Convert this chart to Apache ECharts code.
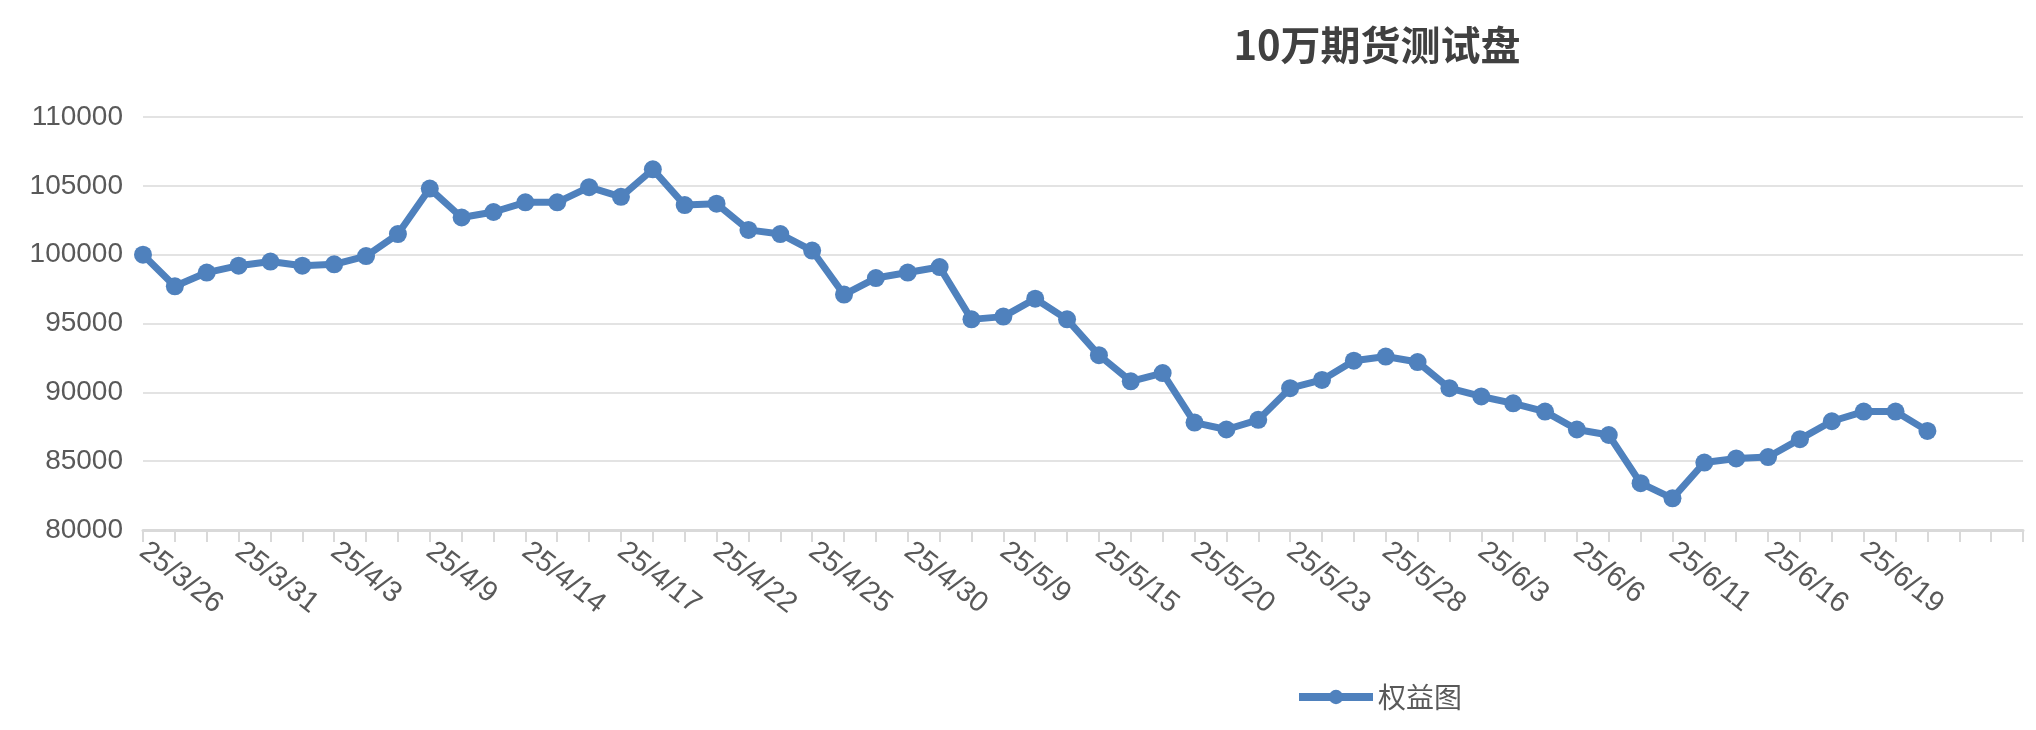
<!DOCTYPE html>
<html><head><meta charset="utf-8">
<script src="https://cdn.jsdelivr.net/npm/echarts@6/dist/echarts.min.js"></script>
<style>html,body{margin:0;padding:0;background:#fff}#c{width:2036px;height:730px}</style>
</head><body><div id="c"></div>
<script>
const categories = ["25/3/26","25/3/27","25/3/28","25/3/31","25/4/1","25/4/2","25/4/3","25/4/7","25/4/8","25/4/9","25/4/10","25/4/11","25/4/14","25/4/15","25/4/16","25/4/17","25/4/18","25/4/21","25/4/22","25/4/23","25/4/24","25/4/25","25/4/28","25/4/29","25/4/30","25/5/7","25/5/8","25/5/9","25/5/12","25/5/13","25/5/15","25/5/16","25/5/19","25/5/20","25/5/21","25/5/22","25/5/23","25/5/26","25/5/27","25/5/28","25/5/29","25/5/30","25/6/3","25/6/4","25/6/5","25/6/6","25/6/9","25/6/10","25/6/11","25/6/12","25/6/13","25/6/16","25/6/17","25/6/18","25/6/19","25/6/20","25/6/23","25/6/24","25/6/25","25/6/26"];
const equity = [100000,97700,98700,99200,99500,99200,99300,99900,101500,104800,102700,103100,103800,103800,104900,104200,106200,103600,103700,101800,101500,100300,97100,98300,98700,99100,95300,95500,96800,95300,92700,90800,91400,87800,87300,88000,90300,90900,92300,92600,92200,90300,89700,89200,88600,87300,86900,83400,82300,84900,85200,85300,86600,87900,88600,88600,87200];
const seriesName = "权益图";
const chart = echarts.init(document.getElementById('c'));
chart.setOption({
  animation:false,
  title:{text:"10万期货测试盘",left:1372,top:20,textAlign:'center',textStyle:{fontSize:40,fontWeight:'bold',color:'#404040',fontFamily:'Noto Sans CJK SC'}},
  legend:{bottom:14,left:1290,itemWidth:74,itemHeight:18,textStyle:{fontSize:28,color:'#595959',fontFamily:'Noto Sans CJK SC'},data:[seriesName],
    itemStyle:{color:'#4f81bd'},lineStyle:{width:8}},
  grid:{left:143,right:13,top:117,bottom:200,containLabel:false},
  xAxis:{type:'category',data:categories,boundaryGap:false,
    axisLine:{lineStyle:{color:'#d9d9d9',width:3}},
    axisTick:{interval:0,length:12,lineStyle:{color:'#d9d9d9',width:2}},
    axisLabel:{interval:(i)=>i%3===0&&i<=54,rotate:-38,fontSize:29,color:'#595959',fontFamily:'Liberation Sans',margin:18,align:'left'},
    splitLine:{show:false}},
  yAxis:{type:'value',min:80000,max:110000,interval:5000,
    axisLine:{show:false},axisTick:{show:false},
    axisLabel:{fontSize:28,color:'#595959',fontFamily:'Liberation Sans',margin:20,formatter:(v)=>String(v)},
    splitLine:{lineStyle:{color:'#e3e3e3',width:2}}},
  series:[{name:seriesName,type:'line',data:equity,symbol:'circle',symbolSize:18,
    lineStyle:{color:'#4f81bd',width:7},itemStyle:{color:'#4f81bd'}}]
});
</script></body></html>
